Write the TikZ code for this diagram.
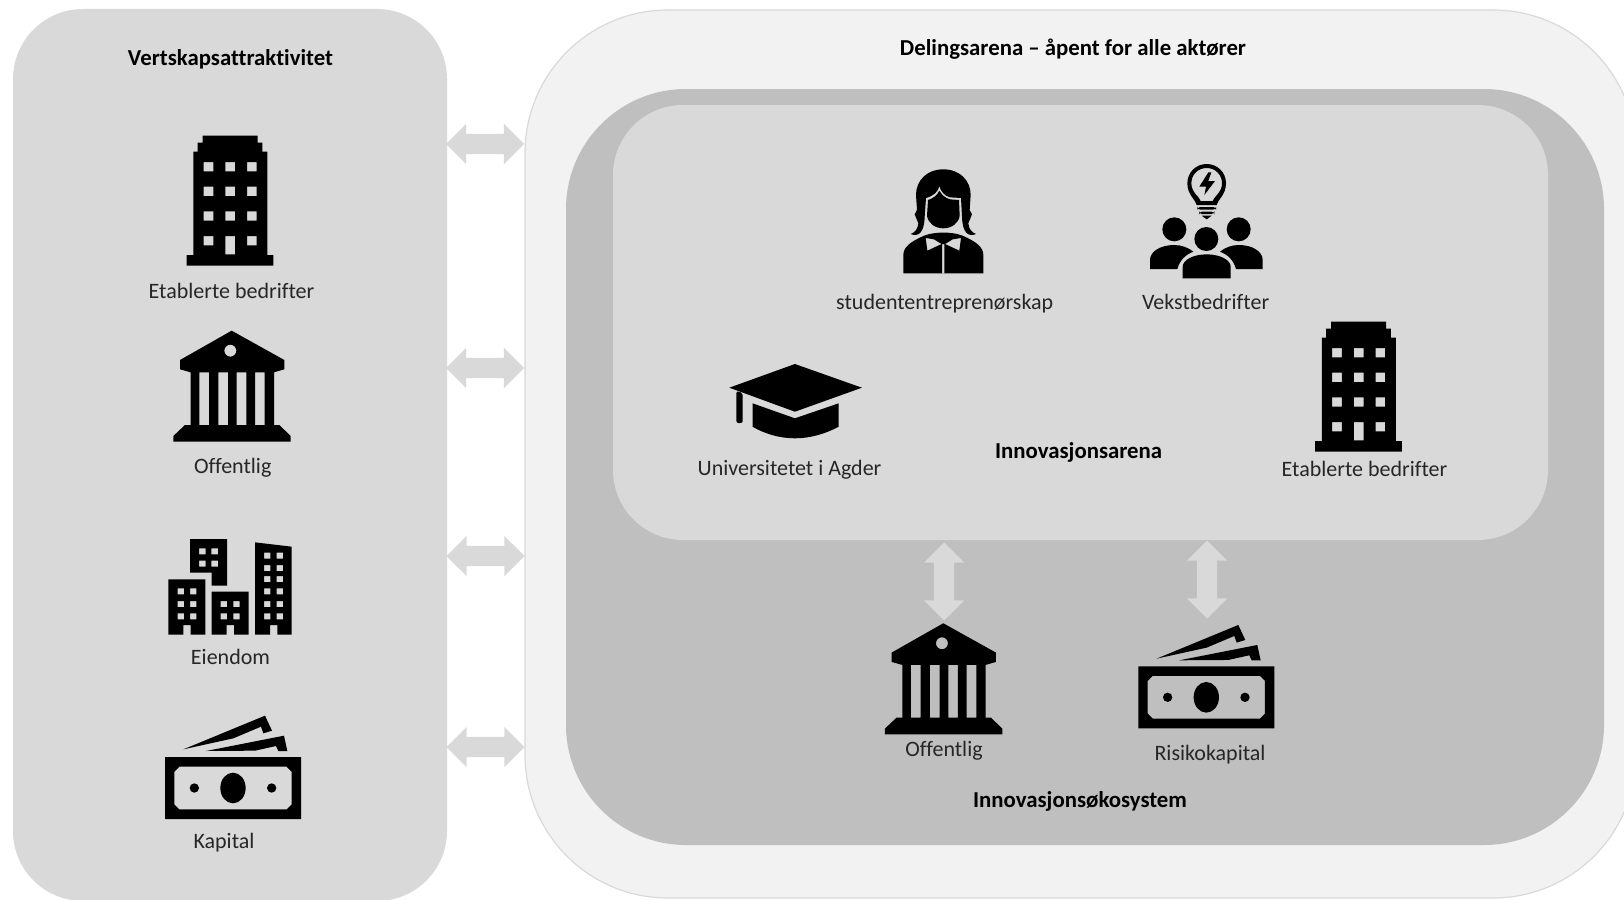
\documentclass[tikz,border=0pt]{standalone}
\usepackage{fontspec}
\setmainfont{Carlito}[Ligatures={NoCommon}]
\usetikzlibrary{shapes.arrows}

\begin{document}
\begin{tikzpicture}[x=1pt,y=-1pt]

\tikzset{panel/.style = {shape=rectangle,inner sep=0pt,draw=none}}
\tikzset{label/.style = {inner sep=0pt,text height=18pt,text depth=4pt,font=\fontsize{22}{24}\selectfont,text=black!85}}
\tikzset{title/.style = {label,font=\fontsize{22.8}{24}\selectfont\bfseries,text=black}}
\tikzset{pil/.style = {shape=double arrow,fill=grey1,inner sep=10pt,minimum width=40pt,minimum height=78pt,double arrow tip angle=90,double arrow head extend=10pt}}
\tikzset{ikon/.style = {fill=black,even odd rule,x=0.33333pt,y=-0.33333pt}}
\tikzset{pics/bygning/.style = {code={
  \fill[ikon] (218,47) -- (383,47) -- (383,68) -- (397,68) -- (397,95) -- (412,95) -- (412,405) -- (430,405)
    -- (430,437) -- (170,437) -- (170,405) -- (190,405) -- (190,95) -- (203,95) -- (203,68) -- (218,68) -- cycle
    \foreach \v in {126,200,274} {\foreach \u in {221,286,351} {(\u,\v) rectangle ++(29,28)}}
    (221,348) rectangle ++(29,28) (286,348) rectangle ++(29,55) (351,348) rectangle ++(29,28);
}}}
\tikzset{pics/offentlig/.style = {code={
  \fill[ikon] (305,632) -- (463,720) -- (463,748) -- (432,757) -- (432,915) -- (448,915) -- (482,948) -- (482,965)
    -- (130,965) -- (130,948) -- (165,915) -- (182,915) -- (182,757) -- (150,748) -- (150,720) -- cycle
    (301,692) circle (18)
    \foreach \u in {208,265,320,375} {(\u,757) rectangle ++(29,158)};
}}}
\tikzset{pics/kapital/.style = {code={
  \fill[ikon] (105,711) rectangle (513,897)
    (148,740) -- (470,740) -- (485,755) -- (485,853) -- (470,868) -- (148,868) -- (133,853) -- (133,755) -- cycle;
  \fill[ikon] (309,804) ellipse [x radius=38,y radius=46] (193,804) circle (14) (425,804) circle (14);
  \fill[ikon] (160,688) -- (405,587) -- (426,632) -- (400,640) -- (393,620) -- (310,655) -- cycle;
  \fill[ikon] (228,693) -- (462,647) -- (472,693) -- (445,693) -- (438,678) -- (375,692) -- cycle;
}}}

\useasboundingbox (0,0) rectangle (1624,899);
\clip (0,0) rectangle (1624,899);

% panels
\definecolor{grey1}{HTML}{D9D9D9}
\definecolor{grey2}{HTML}{BFBFBF}
\definecolor{grey3}{HTML}{F2F2F2}
\node[panel, fill=grey1, rounded corners=70pt, minimum width=434pt, minimum height=892pt] (vertskap) at (230,455) {};
\node[panel, fill=grey3, draw=grey1, line width=1.2pt, rounded corners=143pt, minimum width=1111pt, minimum height=888pt] (deling) at (1080.5,454) {};
\node[panel, fill=grey2, rounded corners=120pt, minimum width=1038pt, minimum height=756pt] (okosystem) at (1085,467) {};
\node[panel, fill=grey1, rounded corners=70pt, minimum width=935pt, minimum height=435pt] (arena) at (1080.5,322.5) {};

% arrows
\node[pil] (pil1) at (485,144) {};
\node[pil] (pil2) at (485,368) {};
\node[pil] (pil3) at (485.5,556) {};
\node[pil] (pil4) at (485.5,747) {};
\node[pil, rotate=90] (pil5) at (944,581.5) {};
\node[pil, rotate=90] (pil6) at (1207,579.5) {};

% icons
\pic at (130,120) {bygning};
\pic at (1258.5,306) {bygning};
\pic at (130,120) {offentlig};
\pic at (841.6,412.6) {offentlig};
\pic at (130,520) {kapital};
\pic at (1103.3,429.3) {kapital};

% eiendom
\begin{scope}[shift={(130,520)}]
\fill[ikon] (180,57) -- (291,57) -- (291,197) -- (245,197) -- (245,158) -- (180,158) -- cycle
  \foreach \v in {85,122} {\foreach \u in {207,244} {(\u,\v) rectangle ++(20,18)}};
\fill[ikon] (115,178) -- (226,178) -- (226,344) -- (182,344) -- (182,315) -- (160,315) -- (160,344) -- (115,344) -- cycle
  \foreach \v in {205,243,280} {\foreach \u in {143,180} {(\u,\v) rectangle ++(19,18)}};
\fill[ikon] (245,215) -- (356,215) -- (356,344) -- (312,344) -- (312,315) -- (290,315) -- (290,344) -- (245,344) -- cycle
  \foreach \v in {243,280} {\foreach \u in {272,310} {(\u,\v) rectangle ++(19,18)}};
\fill[ikon] (375,67) -- (485,80) -- (485,344) -- (442,344) -- (442,315) -- (420,315) -- (420,344) -- (375,344) -- cycle
  \foreach \v in {98,135,168,205,243,280} {\foreach \u in {402,440} {(\u,\v) rectangle ++(19,18)}};
\end{scope}

% student
\begin{scope}[shift={(890,160)}]
\fill[ikon] (160,28) .. controls (110,28) and (78,62) .. (78,105) -- (81,150) -- (74,163) -- (85,190)
  .. controls (83,208) and (75,217) .. (62,222) .. controls (85,232) and (103,218) .. (104,170) -- (108,114)
  .. controls (130,108) and (145,95) .. (148,78) .. controls (152,95) and (165,108) .. (180,112) -- (213,114) -- (216,170)
  .. controls (217,218) and (235,232) .. (258,222) .. controls (245,217) and (237,208) .. (235,190)
  -- (246,163) -- (239,150) -- (242,105) .. controls (242,62) and (210,28) .. (160,28) -- cycle;
\fill[ikon] (148,92) .. controls (142,106) and (128,116) .. (114,120) -- (111,168)
  .. controls (115,190) and (135,205) .. (160,205) .. controls (185,205) and (205,190) .. (209,168) -- (207,120) -- (180,118)
  .. controls (165,114) and (155,104) .. (148,92) -- cycle;
\fill[ikon] (40,340) -- (40,285) .. controls (40,262) and (60,245) .. (105,226) .. controls (135,215) and (185,215) .. (215,226)
  .. controls (260,245) and (280,262) .. (280,285) -- (280,340) -- cycle
  (107,234) -- (132,238) -- (148,248) -- (155,252) -- (112,272) -- cycle
  (213,234) -- (188,238) -- (172,248) -- (165,252) -- (208,272) -- cycle
  (156,252) rectangle (163,340);
\end{scope}

% vekst
\begin{scope}[shift={(1140,155)}]
\fill[ikon] (170,150) .. controls (168,135) and (142,120) .. (142,85) .. controls (142,52) and (168,27) .. (200,27)
  .. controls (232,27) and (258,52) .. (258,85) .. controls (258,120) and (232,135) .. (230,150) -- cycle
  (182,138) .. controls (178,125) and (154,112) .. (154,85) .. controls (154,58) and (175,39) .. (200,39)
  .. controls (225,39) and (246,58) .. (246,85) .. controls (246,112) and (222,125) .. (218,138) -- cycle;
\fill[ikon] (205,52) -- (178,95) -- (198,95) -- (193,120) -- (225,78) -- (205,78) -- (214,52) -- cycle;
\fill[ikon, rounded corners=3pt] (172,156) rectangle (228,164) (177,170) rectangle (223,177);
\fill[ikon] (185,182) -- (215,182) -- (200,193) -- cycle;
\fill[ikon] (103,223) circle (36) (296,223) circle (36) (199,252) circle (36);
\fill[ikon] (30,342) -- (30,315) .. controls (30,290) and (60,270) .. (103,270) .. controls (125,270) and (145,278) .. (160,290)
  .. controls (135,300) and (120,315) .. (112,342) -- cycle;
\fill[ikon] (368,342) -- (368,315) .. controls (368,290) and (338,270) .. (296,270) .. controls (274,270) and (255,278) .. (240,290)
  .. controls (265,300) and (280,315) .. (288,342) -- cycle;
\fill[ikon] (128,370) -- (128,335) .. controls (128,315) and (160,298) .. (200,298) .. controls (240,298) and (272,315) .. (272,335) -- (272,370) -- cycle;
\end{scope}

% hat
\fill[black] (794.9,364) -- (861.9,387.7) -- (794.9,411.7) -- (729.3,387.7) -- cycle;
\fill[black, rounded corners=2pt] (736.4,391) -- (742.7,393) -- (742.7,423) -- (736.4,423) -- cycle;
\fill[black] (752.5,403.3) -- (794.9,418.3) -- (838.7,403.3) -- (838.7,426.7) .. controls (825,434) and (810,438.3) .. (794.9,438.3) .. controls (780,438.3) and (765,434) .. (752.5,426.7) -- cycle;

% labels
\node[title] (t1) at (230.5,59) {Vertskapsattraktivitet};
\node[label] (l1) at (231.5,291.5) {Etablerte bedrifter};
\node[label] (l2) at (232.7,466.5) {Offentlig};
\node[label] (l3) at (230.5,657) {Eiendom};
\node[label] (l4) at (224,841.5) {Kapital};
\node[title] (t2) at (1073,48.5) {Delingsarena -- åpent for alle aktører};
\node[label] (l5) at (944.7,302.5) {studententreprenørskap};
\node[label] (l6) at (1205.6,302.5) {Vekstbedrifter};
\node[label] (l7) at (789.5,468) {Universitetet i Agder};
\node[title] (t3) at (1078.6,451.7) {Innovasjonsarena};
\node[label] (l8) at (1364.5,469) {Etablerte bedrifter};
\node[label] (l9) at (944,749) {Offentlig};
\node[label] (l10) at (1210,753) {Risikokapital};
\node[title] (t4) at (1080,800) {Innovasjonsøkosystem};

\end{tikzpicture}
\end{document}
